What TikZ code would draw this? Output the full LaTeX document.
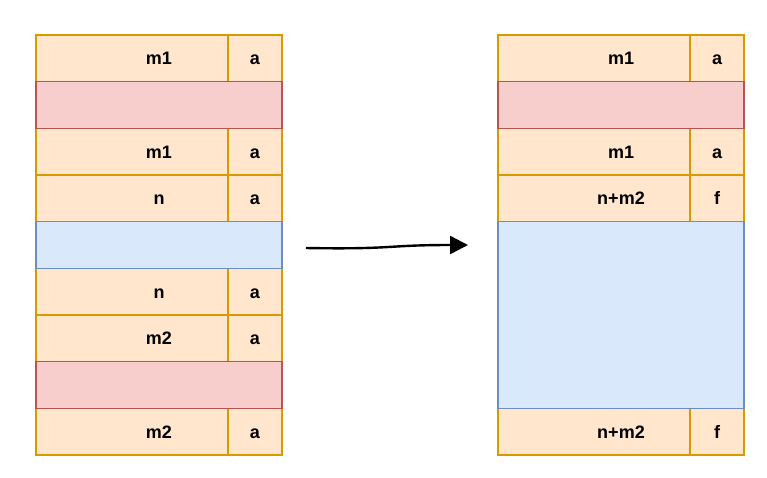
\documentclass[tikz,border=0pt]{standalone}
\usepackage{fontspec}
\setmainfont{Liberation Sans}
\usetikzlibrary{arrows.meta}
\definecolor{ofill}{HTML}{FFE6CC}
\definecolor{oline}{HTML}{D79B00}
\definecolor{rfill}{HTML}{F8CECC}
\definecolor{rline}{HTML}{B85450}
\definecolor{bfill}{HTML}{DAE8FC}
\definecolor{bline}{HTML}{6C8EBF}
\tikzset{
  cell/.style={rectangle, line width=1.3pt, outer sep=0pt, inner sep=0pt,
    minimum width=246pt, minimum height=46.667pt, anchor=north west,
    text height=13pt, text depth=0pt,
    font=\fontsize{18}{20}\selectfont\bfseries},
  used/.style={cell, draw=oline, fill=ofill},
  hole/.style={cell, draw=rline, fill=rfill},
  freeblk/.style={cell, draw=bline, fill=bfill},
  tag/.style={used, minimum width=54pt, anchor=north east},
  flow/.style={line width=2.4pt, -{Triangle[length=18pt,width=18pt]}}
}
\begin{document}
\begin{tikzpicture}[x=1pt,y=-1pt]
\useasboundingbox[fill=white] (0,0) rectangle (767,477);

% heap before coalescing: allocated blocks
\node[used] (l1) at (36,35) {m1};
\node[tag] (l1t) at (l1.north east) {a};
\node[used] (l3) at (36,128.333) {m1};
\node[tag] (l3t) at (l3.north east) {a};
\node[used] (l4) at (36,175) {n};
\node[tag] (l4t) at (l4.north east) {a};
\node[used] (l6) at (36,268.333) {n};
\node[tag] (l6t) at (l6.north east) {a};
\node[used] (l7) at (36,315) {m2};
\node[tag] (l7t) at (l7.north east) {a};
\node[used] (l9) at (36,408.333) {m2};
\node[tag] (l9t) at (l9.north east) {a};
% gaps
\node[hole] (l2) at (36,81.667) {};
\node[freeblk] (l5) at (36,221.667) {};
\node[hole] (l8) at (36,361.667) {};

% heap after coalescing: allocated blocks
\node[used] (r1) at (498,35) {m1};
\node[tag] (r1t) at (r1.north east) {a};
\node[used] (r3) at (498,128.333) {m1};
\node[tag] (r3t) at (r3.north east) {a};
\node[used] (r4) at (498,175) {n+m2};
\node[tag] (r4t) at (r4.north east) {f};
\node[used] (r6) at (498,408.333) {n+m2};
\node[tag] (r6t) at (r6.north east) {f};
% gaps
\node[hole] (r2) at (498,81.667) {};
\node[freeblk, minimum height=186.667pt] (r5) at (498,221.667) {};

% transition arrow
\coordinate (from) at (306,248);
\coordinate (to) at (468,245);
\draw[flow] (from) .. controls (395,249.5) and (385,245) .. (to);
\end{tikzpicture}
\end{document}
